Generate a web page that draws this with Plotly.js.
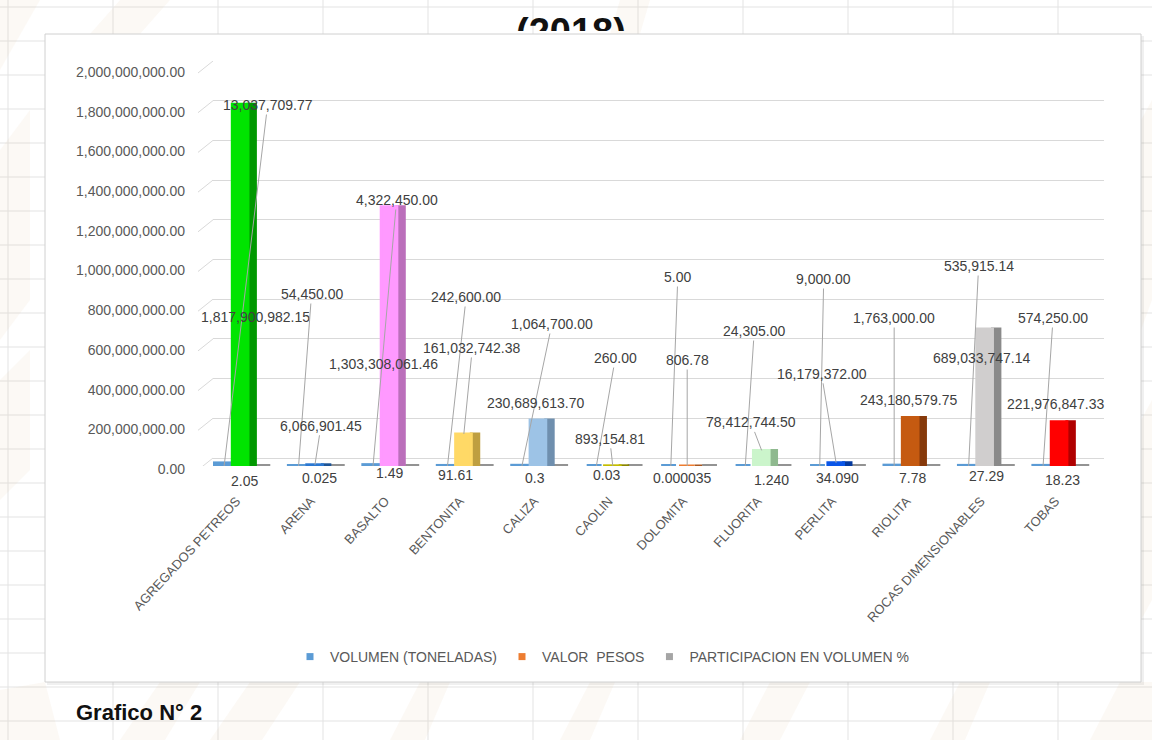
<!DOCTYPE html>
<html>
<head>
<meta charset="utf-8">
<script src="https://cdn.plot.ly/plotly-3.0.1.min.js"></script>
<style>
html,body{margin:0;padding:0;background:#ffffff;}
#chart{width:1152px;height:740px;}
</style>
</head>
<body>
<div id="chart"></div>
<script>
// ---------------- DATA ----------------
const categorias = ['AGREGADOS PETREOS','ARENA','BASALTO','BENTONITA','CALIZA','CAOLIN','DOLOMITA','FLUORITA','PERLITA','RIOLITA','ROCAS DIMENSIONABLES','TOBAS'];
const volumenToneladas = [13037709.77, 54450.00, 4322450.00, 242600.00, 1064700.00, 260.00, 5.00, 24305.00, 9000.00, 1763000.00, 535915.14, 574250.00];
const valorPesos = [1817900982.15, 6066901.45, 1303308061.46, 161032742.38, 230689613.70, 893154.81, 806.78, 78412744.50, 16179372.00, 243180579.75, 689033747.14, 221976847.33];
const participacionTexto = ['2.05','0.025','1.49','91.61','0.3','0.03','0.000035','1.240','34.090','7.78','27.29','18.23'];
const participacion = participacionTexto.map(Number);
const yTicks = [0, 200000000, 400000000, 600000000, 800000000, 1000000000, 1200000000, 1400000000, 1600000000, 1800000000, 2000000000];
const serieNombres = ['VOLUMEN (TONELADAS)', 'VALOR\u00a0\u00a0PESOS', 'PARTICIPACION EN VOLUMEN %'];

// ---------------- STYLE ----------------
const valorColores = ['#00e400','#2b78d2','#ff99ff','#ffd966','#9dc3e6','#c4bd00','#ed7d31','#cbf5cb','#0a56e8','#c55a11','#d0cece','#ff0000'];
const valorLados   = ['#009800','#1d5496','#bb6fbb','#bf9f40','#6f8fae','#8a8500','#a8561f','#8fb98f','#053a9e','#86390a','#8a8a8a','#b00000'];
const volColor = '#5b9bd5', partColor = '#a5a5a5', partSlab = '#939393', valLegend = '#ed7d31';
const FONT = 'Liberation Sans, Arial, sans-serif';
const TXT = '#404040';

// plot geometry (pixels)
const PL = 213, PR = 1104, PT = 61, PB = 466;
const px2x = p => (p - PL) / (PR - PL);
const px2y = p => (PB - p) / (PB - PT);
const yMax = yTicks[yTicks.length - 1];
const GRID_ZERO_PX = 458;              // back wall floor
const gridUPP = yMax / (GRID_ZERO_PX - PT);
const gridRange = [-(PB - GRID_ZERO_PX) * gridUPP, yMax];
const BAR_TOP_PX = 68;                 // front plane top
const barUPP = yMax / (PB - BAR_TOP_PX);
const barRange = [0, yMax + (BAR_TOP_PX - PT) * barUPP];
const CAT0 = 240.5, CATW = 74.45;
const xRange = [(PL - CAT0) / CATW, (PR - CAT0) / CATW];

const fmt2 = v => v.toLocaleString('en-US', {minimumFractionDigits: 2, maximumFractionDigits: 2});

// label placement (pixel offsets from anchor point)
const volOff = [[43.5,-361],[13,-172],[23.6,-266],[18.7,-169],[30,-142],[19,-108],[7,-189],[9,-135],[4,-187],[0,-148],[10,-200],[10,-148]];
const valOff = [[15,213,0],[6,-39,1],[-6,157,0],[8.5,-86,1],[-2,-17.5,0],[-3,-27,1],[0,-106,1],[-10.7,-28,1],[-14.6,-89,1],[-1.6,-17.6,0],[-3,29,0],[-3.5,-18,0]];
const partOff = [[4.2,15],[4.7,11.6],[0,7],[-8.4,9],[-3.3,11.6],[-5.8,9],[-5.2,11.6],[9.8,14],[1.5,11.6],[2,11.6],[1.8,9.7],[3.5,14]];

// ---------------- TRACES ----------------
const traces = [
  // legend entries
  {type:'scatter', mode:'markers', x:[null], y:[null], name: serieNombres[0], marker:{symbol:'square', size:7, color: volColor}, hoverinfo:'skip'},
  {type:'scatter', mode:'markers', x:[null], y:[null], name: serieNombres[1], marker:{symbol:'square', size:7, color: valLegend}, hoverinfo:'skip'},
  {type:'scatter', mode:'markers', x:[null], y:[null], name: serieNombres[2], marker:{symbol:'square', size:7, color: partColor}, hoverinfo:'skip'},
  // volumen
  {type:'bar', x: categorias, y: volumenToneladas, yaxis:'y2', offset:-0.35, width:0.2, showlegend:false,
   marker:{color: volColor, line:{color: volColor, width:4}}, name: serieNombres[0]},
  // participacion
  {type:'bar', x: categorias, y: participacion, yaxis:'y2', offset:0.2, width:0.2, showlegend:false,
   marker:{color: partSlab, line:{color: partSlab, width:4}}, name: serieNombres[2]},
  // valor side
  {type:'bar', x: categorias, y: valorPesos, yaxis:'y2', offset:0.1, width:0.1, showlegend:false,
   marker:{color: valorLados, line:{color: valorLados, width:3}}, hoverinfo:'skip'},
  // valor front
  {type:'bar', x: categorias, y: valorPesos, yaxis:'y2', offset:-0.11, width:0.21, showlegend:false,
   marker:{color: valorColores, line:{color: valorColores, width:3}}, name: serieNombres[1]}
];

// ---------------- ANNOTATIONS ----------------
const ann = [];
const lblFont = {family: FONT, size: 14, color: TXT};
categorias.forEach((c, i) => {
  ann.push({xref:'x', yref:'y2', x: i - 0.22, y: 0, ax: volOff[i][0], ay: volOff[i][1],
    text: fmt2(volumenToneladas[i]), showarrow: true, arrowhead: 0, arrowwidth: 1, arrowcolor: '#a6a6a6',
    standoff: 0, font: lblFont});
  const vo = valOff[i];
  if (vo[2]) {
    ann.push({xref:'x', yref:'y2', x: i, y: valorPesos[i], ax: vo[0], ay: vo[1],
      text: fmt2(valorPesos[i]), showarrow: true, arrowhead: 0, arrowwidth: 1, arrowcolor: '#a6a6a6',
      standoff: 0, font: lblFont});
  } else {
    ann.push({xref:'x', yref:'y2', x: i, y: valorPesos[i], xshift: vo[0], yshift: -vo[1],
      text: fmt2(valorPesos[i]), showarrow: false, xanchor:'center', yanchor:'middle', font: lblFont});
  }
  ann.push({xref:'x', yref:'y2', x: i, y: 0, xshift: partOff[i][0], yshift: -partOff[i][1],
    text: participacionTexto[i], showarrow: false, xanchor:'center', yanchor:'middle', font: lblFont});
});
// page title (clipped by chart box) and caption
ann.push({xref:'paper', yref:'paper', x: px2x(571), y: px2y(10), xanchor:'center', yanchor:'top', valign:'top',
  height: 20, borderpad: 0, text:'<b>(2018)</b>', showarrow:false, font:{family: FONT, size: 38, color:'#111111'}});
ann.push({xref:'paper', yref:'paper', x: px2x(74), y: px2y(712.5), xanchor:'left', yanchor:'middle',
  text:'<b>Grafico N° 2</b>', showarrow:false, font:{family: FONT, size: 22, color:'#111111'}});

// ---------------- SHAPES ----------------
const shapes = [];
const sheetLine = {color:'#e3e3e3', width:1};
for (let k = 0; k <= 10; k++) {
  const xp = 8 + 105 * k;
  shapes.push({type:'line', xref:'paper', yref:'paper', layer:'below', x0: px2x(xp), x1: px2x(xp), y0: px2y(0), y1: px2y(740), line: sheetLine});
}
for (let k = 0; k <= 21; k++) {
  const yp = 7 + 34 * k;
  shapes.push({type:'line', xref:'paper', yref:'paper', layer:'below', x0: px2x(0), x1: px2x(1152), y0: px2y(yp), y1: px2y(yp), line: sheetLine});
}
// faint watermark stripes
const wm = 'rgba(225,195,160,0.10)';
const stripes = [[0,0,40,0,0,70],[0,150,30,110,30,300,0,340],[0,380,30,350,30,470,0,500],
  [0,740,0,690,45,682,60,740],[120,740,160,682,200,682,165,740],[210,740,250,682,300,682,262,740],
  [390,740,420,682,450,682,425,740],[560,740,590,682,615,682,590,740],[740,740,770,682,810,682,780,740],
  [930,740,960,682,990,682,965,740],[1090,740,1120,682,1152,682,1152,740],[1141,120,1152,100,1152,300,1141,330],
  [1141,420,1152,400,1152,600,1141,620],[620,0,650,0,640,34,610,34],[90,34,120,0,170,0,140,34]];
stripes.forEach(s => {
  let d = '';
  for (let j = 0; j < s.length; j += 2) d += (j ? 'L' : 'M') + px2x(s[j]) + ',' + px2y(s[j+1]) + ' ';
  shapes.push({type:'path', xref:'paper', yref:'paper', layer:'below', path: d + 'Z', fillcolor: wm, line:{width:0}});
});
// chart box shadow + box
shapes.push({type:'rect', xref:'paper', yref:'paper', layer:'below', x0: px2x(47), x1: px2x(1144), y0: px2y(36), y1: px2y(685),
  fillcolor:'rgba(0,0,0,0.06)', line:{width:0}});
shapes.push({type:'rect', xref:'paper', yref:'paper', layer:'below', x0: px2x(45), x1: px2x(1141), y0: px2y(34), y1: px2y(682),
  fillcolor:'#ffffff', line:{color:'#d0d0d0', width:1}});
// perspective stubs at left of gridlines
yTicks.forEach(v => {
  shapes.push({type:'line', xref:'paper', yref:'y', layer:'below', x0: px2x(198), x1: px2x(PL), y0: v - 12 * gridUPP, y1: v,
    line:{color:'#d9d9d9', width:1}});
});

// ---------------- LAYOUT ----------------
const layout = {
  width: 1152, height: 740,
  margin: {l: PL, r: 1152 - PR, t: PT, b: 740 - PB, pad: 0},
  paper_bgcolor: '#ffffff', plot_bgcolor: 'rgba(0,0,0,0)',
  barmode: 'overlay',
  showlegend: true,
  font: {family: FONT, size: 14, color: TXT},
  xaxis: {type:'category', range: xRange, tickangle: -47, showgrid:false, zeroline:false, showline:false, ticks:'',
    ticklabelstandoff: 24, ticklabelshift: -4, tickfont:{family: FONT, size: 13, color:'#595959'}, fixedrange:true},
  yaxis: {range: gridRange, tickvals: yTicks, tickformat: ',.2f', showgrid: true, gridcolor:'#d9d9d9', gridwidth:1,
    zeroline:false, showline:false, ticks:'', ticklabelstandoff: 27, ticklabelshift: 11,
    tickfont:{family: FONT, size: 14, color:'#595959'}, fixedrange:true},
  yaxis2: {overlaying:'y', range: barRange, visible:false, fixedrange:true},
  legend: {orientation:'h', x: px2x(602), xanchor:'center', y: px2y(657), yanchor:'middle',
    font:{family: FONT, size: 14, color:'#595959'}, bgcolor:'rgba(0,0,0,0)', traceorder:'normal'},
  annotations: ann,
  shapes: shapes
};

Plotly.newPlot('chart', traces, layout, {displayModeBar:false, staticPlot:true});
</script>
</body>
</html>
